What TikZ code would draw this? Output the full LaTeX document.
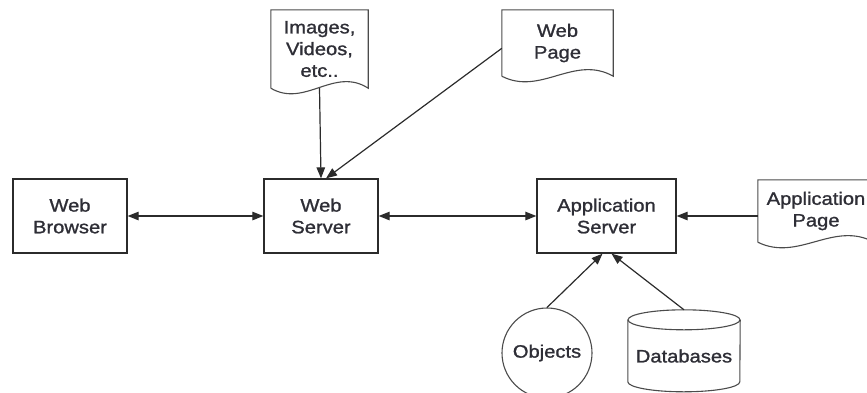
\documentclass[tikz,border=0pt]{standalone}
\usepackage{fontspec}
\setmainfont{Liberation Sans}[FakeStretch=1.12, FakeBold=1.2]
\usetikzlibrary{calc,arrows.meta}
\definecolor{ink}{HTML}{2B2B2B}
\definecolor{txt}{HTML}{2E2E36}

% Outline of a "document" symbol around a named node: straight top and sides,
% wavy bottom edge.
\newcommand\docshape[1]{%
  \draw[docline] (#1.south west) -- (#1.north west) -- (#1.north east) -- (#1.south east)
    .. controls ($(#1.south west)!0.65!(#1.south east)+(0,-22)$)
       and ($(#1.south west)!0.35!(#1.south east)+(0,20)$) .. (#1.south west);}

\begin{document}
\begin{tikzpicture}[x=1pt,y=-1pt,
  every node/.style={font=\fontsize{18}{21.7}\selectfont, text=txt, align=center, inner sep=0pt},
  box/.style={draw=ink, line width=1.3pt, minimum width=114pt, minimum height=74pt},
  docline/.style={draw=ink!85, line width=1.1pt},
  link/.style={draw=ink, line width=1.2pt},
  tip/.style={-{Triangle[length=11pt,width=8.5pt]}},
  both/.style={{Triangle[length=11pt,width=8.5pt]}-{Triangle[length=11pt,width=8.5pt]}}
]
\useasboundingbox (0,0) rectangle (867,392);
\clip (0,0) rectangle (867,392);

% servers and browser
\node[box] (wb) at (70,216) {Web\\Browser};
\node[box] (ws) at (321,216) {Web\\Server};
\node[box, minimum width=139pt] (as) at (606.5,216) {Application\\Server};

% documents
\node[minimum width=97pt, minimum height=78pt] (img) at (319.5,49) {Images,\\Videos,\\etc..};
\node[minimum width=111pt, minimum height=66pt] (wp) at (557.5,43) {Web\\Page};
\node[minimum width=116pt, minimum height=62pt] (ap) at (816,211) {Application\\Page};
\docshape{img}
\docshape{wp}
\docshape{ap}

% objects and databases
\node[circle, draw=ink!85, line width=1.1pt, minimum size=90pt] (obj) at (547,353) {Objects};
\node[minimum width=112pt, minimum height=72pt] (db) at (684,356) {Databases};
\draw[docline] (db.north) ellipse [x radius=56pt, y radius=10pt];
\draw[docline] (db.north west) -- ($(db.north west)+(0,62)$)
  arc[start angle=180, end angle=360, x radius=56pt, y radius=10pt] -- (db.north east);

% connectors
\draw[link, both] (wb.east) -- (ws.west);
\draw[link, both] (ws.east) -- (as.west);
\draw[link, tip] (as.east -| ap.west) -- (as.east);
\draw[link, tip] (img.south) -- (ws.north);
\draw[link, tip] ($(wp.north west)!0.58!(wp.south west)$) -- ($(ws.north)+(5,0)$);
\draw[link, tip] (obj.north) -- ($(as.south)+(-4,0)$);
\draw[link, tip] ($(db.north)+(0,-10)$) -- ($(as.south)+(5,0)$);
\end{tikzpicture}
\end{document}
